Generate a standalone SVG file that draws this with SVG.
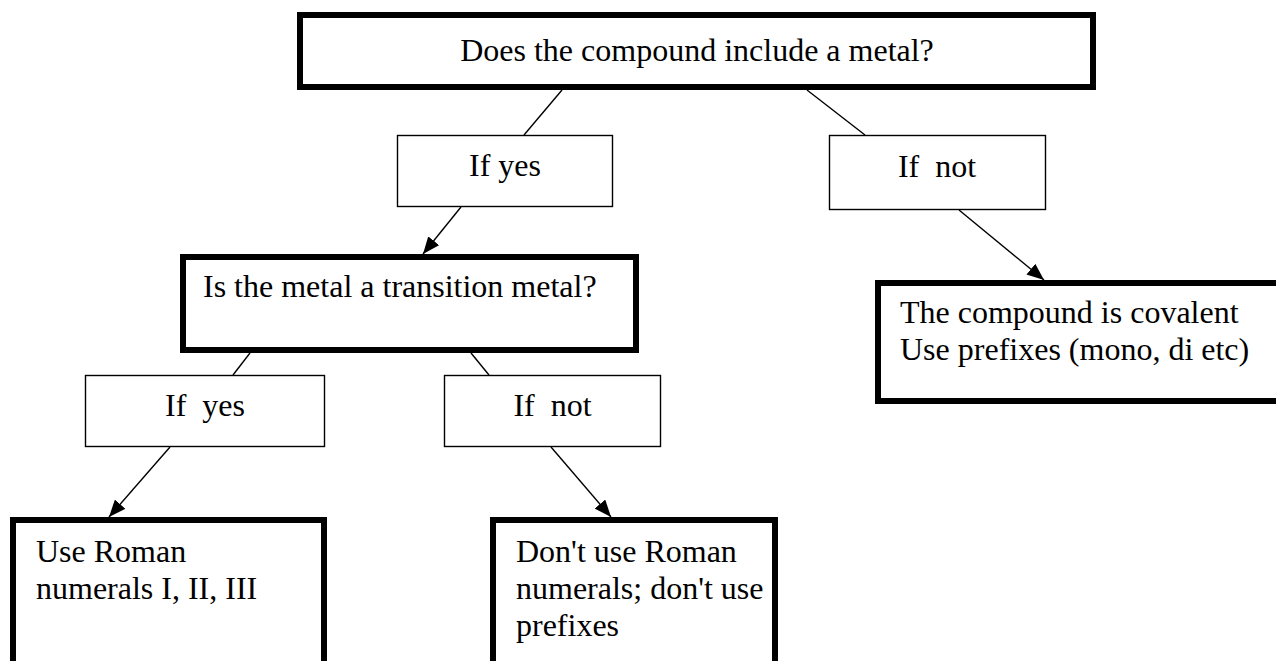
<svg xmlns="http://www.w3.org/2000/svg" width="1276" height="661" viewBox="0 0 1276 661">
<defs>
<style>
.thick{fill:#fff;stroke:#000;stroke-width:6}
.thin{fill:#fff;stroke:#000;stroke-width:1.4}
.t{font-family:"Liberation Serif","Times New Roman",serif;font-size:32px;fill:#000}
.c{text-anchor:middle}
.ln{stroke:#000;stroke-width:1.4;fill:none}
</style>
<marker id="ah" markerUnits="userSpaceOnUse" markerWidth="18" markerHeight="14" refX="17" refY="7" orient="auto">
<path d="M0,0 L17,7 L0,14 z" fill="#000"/>
</marker>
</defs>
<rect width="1276" height="661" fill="#fff"/>
<g id="connectors">
<line class="ln" x1="562" y1="90" x2="524" y2="135"/>
<line class="ln" x1="807" y1="90" x2="865" y2="135"/>
<line class="ln" x1="461" y1="207" x2="423" y2="254" marker-end="url(#ah)"/>
<line class="ln" x1="959" y1="210" x2="1044" y2="280" marker-end="url(#ah)"/>
<line class="ln" x1="250" y1="353" x2="233" y2="375"/>
<line class="ln" x1="471" y1="353" x2="489" y2="375"/>
<line class="ln" x1="170" y1="447" x2="109" y2="517" marker-end="url(#ah)"/>
<line class="ln" x1="551" y1="447" x2="611" y2="517" marker-end="url(#ah)"/>
</g>
<g id="q1">
<rect class="thick" x="300" y="15" width="793" height="72"/>
<text class="t c" x="697" y="61">Does the compound include a metal?</text>
</g>
<g id="yes1">
<rect class="thin" x="397.5" y="135.5" width="215" height="71"/>
<text class="t c" x="505" y="176">If yes</text>
</g>
<g id="not1">
<rect class="thin" x="829.5" y="135.5" width="216" height="74"/>
<text class="t c" x="937" y="177" xml:space="preserve">If  not</text>
</g>
<g id="q2">
<rect class="thick" x="183" y="257" width="453" height="93"/>
<text class="t" x="203" y="297">Is the metal a transition metal?</text>
</g>
<g id="covalent">
<rect class="thick" x="878" y="283" width="420" height="118"/>
<text class="t" x="900" y="323">The compound is covalent</text>
<text class="t" x="900" y="360">Use prefixes (mono, di etc)</text>
</g>
<g id="yes2">
<rect class="thin" x="85.5" y="375.5" width="239" height="71"/>
<text class="t c" x="205" y="416" xml:space="preserve">If  yes</text>
</g>
<g id="not2">
<rect class="thin" x="444.5" y="375.5" width="216" height="71"/>
<text class="t c" x="552.5" y="416" xml:space="preserve">If  not</text>
</g>
<g id="roman">
<rect class="thick" x="13" y="520" width="311" height="200"/>
<text class="t" x="36" y="562">Use Roman</text>
<text class="t" x="36" y="599">numerals I, II, III</text>
</g>
<g id="noroman">
<rect class="thick" x="493" y="520" width="282" height="200"/>
<text class="t" x="516" y="562">Don't use Roman</text>
<text class="t" x="516" y="599">numerals; don't use</text>
<text class="t" x="516" y="636">prefixes</text>
</g>
</svg>
